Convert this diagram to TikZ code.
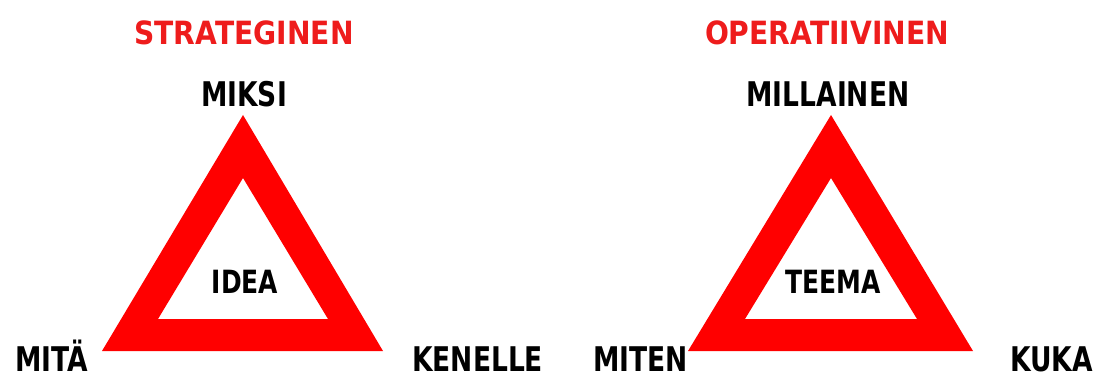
\documentclass[tikz,border=0pt]{standalone}
\usepackage{fontspec}
\usepackage{xcolor}
\usetikzlibrary{positioning}
\newfontfamily\lblfont[FakeStretch=0.78]{DejaVu Sans}
\newfontfamily\ttlfont[FakeStretch=0.88]{DejaVu Sans}
\definecolor{trired}{HTML}{FF0000}
\definecolor{titlered}{HTML}{EE1C1C}

\begin{document}
\begin{tikzpicture}[x=1pt,y=-1pt]

\tikzset{
title/.style={
    inner sep=0pt,
    anchor=base,
    text=titlered,
    font=\ttlfont\bfseries\fontsize{32}{32}\selectfont
},
corner/.style={
    inner sep=0pt,
    text=black,
    font=\lblfont\bfseries\fontsize{34}{34}\selectfont
},
centre/.style={
    inner sep=0pt,
    anchor=base,
    text=black,
    font=\lblfont\bfseries\fontsize{32}{32}\selectfont
},
ring/.style={fill=trired,even odd rule}
}

\useasboundingbox (0,0) rectangle (1094,379);

% strateginen
\fill[ring] (243,115) -- (383,351) -- (102,351) -- cycle
            (243,178) -- (328,319) -- (158,319) -- cycle;
\node[title] (strat) at (244,45) {STRATEGINEN};
\node[corner,anchor=base] (miksi) at (244,107) {MIKSI};
\node[centre] (idea) at (245,293) {IDEA};
\node[corner,anchor=base west] (mita) at (15,371) {MITÄ};
\node[corner,anchor=base west] (kenelle) at (412,371) {KENELLE};

% operatiivinen
\fill[ring] (831,115) -- (973,351) -- (688,351) -- cycle
            (831,178) -- (917,319) -- (745,319) -- cycle;
\node[title] (oper) at (827,45) {OPERATIIVINEN};
\node[corner,anchor=base] (millainen) at (828,107) {MILLAINEN};
\node[centre] (teema) at (833,293) {TEEMA};
\node[corner,anchor=base west] (miten) at (593,371) {MITEN};
\node[corner,anchor=base east] (kuka) at (1093,371) {KUKA};

\end{tikzpicture}
\end{document}
